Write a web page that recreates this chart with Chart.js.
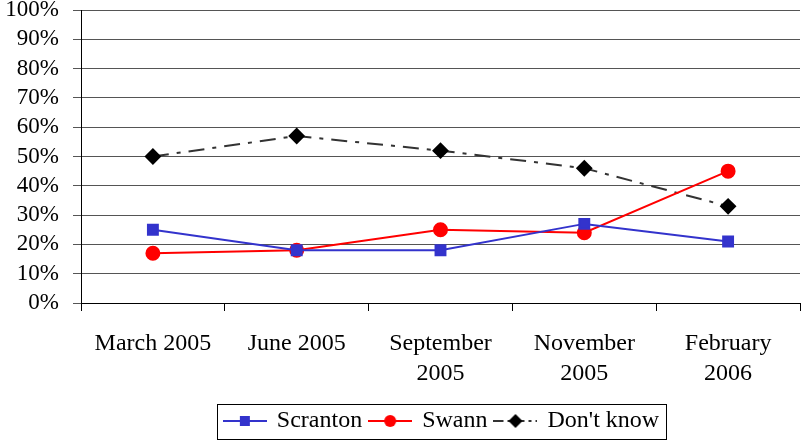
<!DOCTYPE html>
<html>
<head>
<meta charset="utf-8">
<script src="https://cdn.jsdelivr.net/npm/chart.js@4"></script>
<style>
  html, body { margin: 0; padding: 0; background: #fff; }
  #wrap { width: 801px; height: 443px; }
</style>
</head>
<body>
<div id="wrap"><canvas id="grafico" width="801" height="443"></canvas></div>
<script>
var meses = [['March 2005'], ['June 2005'], ['September', '2005'], ['November', '2005'], ['February', '2006']];
var scranton = [25, 18, 18, 27, 21];
var swann = [17, 18, 25, 24, 45];
var noSabe = [50, 57, 52, 46, 33];
var ticksY = [0, 10, 20, 30, 40, 50, 60, 70, 80, 90, 100];

var fuente = '"Liberation Serif", "Times New Roman", serif';

// small picture for the legend: a line with the marker in the middle
function muestra(color, marcador, dash) {
    var c = document.createElement('canvas');
    c.width = 44; c.height = 14;
    var g = c.getContext('2d');
    g.strokeStyle = color === '#000' ? '#333' : color;
    g.lineWidth = 2;
    if (dash) g.setLineDash(dash);
    g.beginPath(); g.moveTo(0, 7); g.lineTo(44, 7); g.stroke();
    g.setLineDash([]);
    g.fillStyle = color;
    g.beginPath();
    if (marcador === 'rect') g.rect(17, 2, 10, 10);
    else if (marcador === 'circle') g.arc(22, 7, 6, 0, Math.PI * 2);
    else { g.moveTo(22, 0); g.lineTo(29, 7); g.lineTo(22, 14); g.lineTo(15, 7); g.closePath(); }
    g.fill();
    return c;
}

var cajaLeyenda = {
    id: 'cajaLeyenda',
    afterLayout: function(chart) {
        // the legend sits a bit right of the middle in the original
        chart.legend.left += 40;
        chart.legend.right += 40;
    },
    afterDraw: function(chart) {
        var cajas = chart.legend.legendHitBoxes;
        if (!cajas || !cajas.length) return;
        var izq = Math.min.apply(null, cajas.map(b => b.left)) - 8;
        var der = Math.max.apply(null, cajas.map(b => b.left + b.width)) + 7;
        var arr = cajas[0].top - 5;
        var ctx = chart.ctx;
        ctx.save();
        ctx.strokeStyle = '#000';
        ctx.lineWidth = 1;
        ctx.strokeRect(Math.round(izq) + 0.5, Math.round(arr) + 0.5, Math.round(der - izq), 35);
        ctx.restore();
    }
};

var ctx = document.getElementById('grafico');
var grafico = new Chart(ctx, {
    type: 'line',
    data: {
        labels: meses,
        datasets: [{
            label: 'Scranton',
            data: scranton,
            borderColor: '#3333CC',
            backgroundColor: '#3333CC',
            borderWidth: 2,
            pointStyle: 'rect',
            pointRadius: 7,
            pointHoverRadius: 7,
            tension: 0
        }, {
            label: 'Swann',
            data: swann,
            borderColor: '#FF0000',
            backgroundColor: '#FF0000',
            borderWidth: 2,
            pointStyle: 'circle',
            pointRadius: 6.5,
            pointHoverRadius: 6.5,
            tension: 0
        }, {
            label: "Don't know",
            data: noSabe,
            borderColor: '#333',
            backgroundColor: '#000',
            borderWidth: 2,
            borderDash: [16, 8, 4, 8],
            pointStyle: 'rectRot',
            pointRadius: 7,
            pointHoverRadius: 7,
            pointBorderColor: '#000',
            tension: 0
        }]
    },
    options: {
        responsive: false,
        animation: false,
        layout: { autoPadding: false, padding: { left: 4, right: 1, top: 0, bottom: 0 } },
        plugins: {
            tooltip: { enabled: false },
            legend: {
                position: 'bottom',
                labels: {
                    font: { family: fuente, size: 24 },
                    color: '#000',
                    usePointStyle: true,
                    pointStyleWidth: 40,
                    padding: 8,
                    generateLabels: function(chart) {
                        var marcas = ['rect', 'circle', 'diamond'];
                        var colores = ['#3333CC', '#FF0000', '#000'];
                        return chart.data.datasets.map(function(ds, i) {
                            return {
                                text: ds.label,
                                pointStyle: muestra(colores[i], marcas[i], i === 2 ? [10, 4, 3, 4] : null),
                                fillStyle: colores[i],
                                strokeStyle: colores[i],
                                lineWidth: 0,
                                fontColor: '#000',
                                datasetIndex: i
                            };
                        });
                    }
                }
            }
        },
        scales: {
            x: {
                offset: true,
                afterFit: function(axis) {
                    axis.height = 98;
                    axis.paddingLeft = 0;
                    axis.paddingRight = 0;
                },
                grid: { display: true, drawOnChartArea: false, color: '#000', tickLength: 8, offset: true },
                border: { color: '#000', width: 1 },
                ticks: {
                    color: '#000',
                    font: { family: fuente, size: 24, lineHeight: 1.25 },
                    maxRotation: 0,
                    autoSkip: false,
                    padding: 18
                }
            },
            y: {
                min: 0,
                max: 100,
                afterBuildTicks: function(axis) {
                    axis.ticks = ticksY.map(v => ({ value: v }));
                },
                afterFit: function(axis) {
                    axis.width = 77;
                    axis.paddingTop = 10;
                    axis.paddingBottom = 0;
                },
                grid: { color: '#555', tickLength: 8 },
                border: { color: '#000', width: 1 },
                ticks: {
                    color: '#000',
                    autoSkip: false,
                    font: { family: fuente, size: 23, lineHeight: 0.9 },
                    padding: 14,
                    callback: function(v) { return v + '%'; }
                }
            }
        }
    },
    plugins: [cajaLeyenda]
});
</script>
</body>
</html>
